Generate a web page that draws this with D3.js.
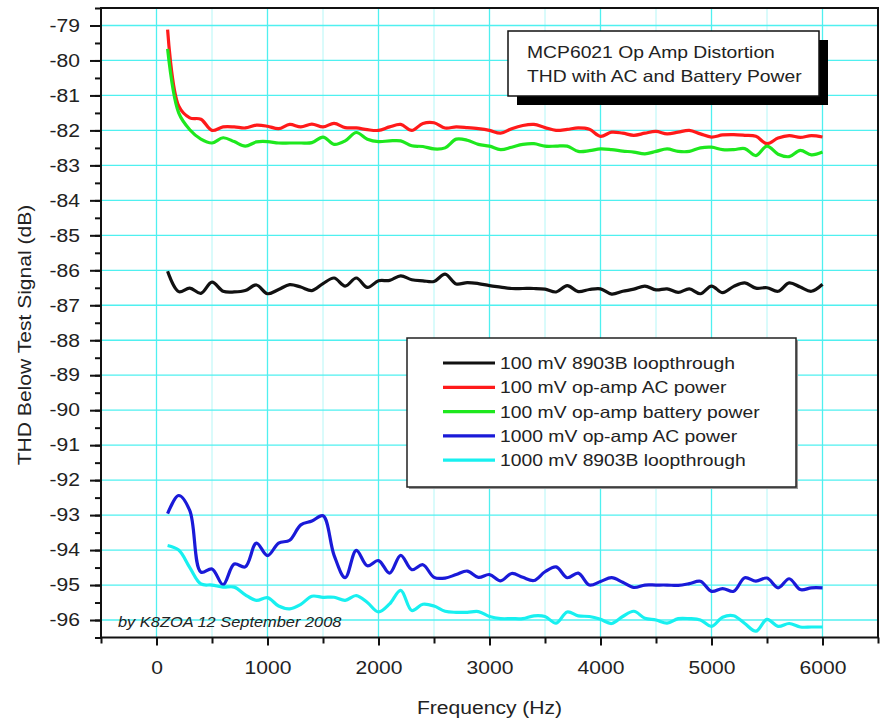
<!DOCTYPE html>
<html>
<head>
<meta charset="utf-8">
<script src="https://cdn.jsdelivr.net/npm/d3@7"></script>
<style>
body { margin: 0; background: #fff; }
#container { width: 881px; height: 721px; }
svg text { font-family: "Liberation Sans", Arial, sans-serif; fill: #222; }
</style>
</head>
<body>
<div id="container"></div>
<script>
// frequency points (Hz), shared by every series
const freqs = [100, 200, 300, 400, 500, 600, 700, 800, 900, 1000,
    1100, 1200, 1300, 1400, 1500, 1600, 1700, 1800, 1900, 2000,
    2100, 2200, 2300, 2400, 2500, 2600, 2700, 2800, 2900, 3000,
    3100, 3200, 3300, 3400, 3500, 3600, 3700, 3800, 3900, 4000,
    4100, 4200, 4300, 4400, 4500, 4600, 4700, 4800, 4900, 5000,
    5100, 5200, 5300, 5400, 5500, 5600, 5700, 5800, 5900, 6000];

const loop100 = [-86.03, -86.61, -86.51, -86.66, -86.34, -86.60, -86.62, -86.58, -86.42, -86.67,
    -86.55, -86.41, -86.48, -86.58, -86.38, -86.22, -86.45, -86.22, -86.49, -86.30,
    -86.29, -86.16, -86.27, -86.30, -86.32, -86.11, -86.39, -86.35, -86.38, -86.44,
    -86.48, -86.52, -86.52, -86.52, -86.54, -86.62, -86.44, -86.61, -86.55, -86.53,
    -86.68, -86.60, -86.54, -86.45, -86.56, -86.53, -86.63, -86.53, -86.67, -86.45,
    -86.64, -86.46, -86.36, -86.51, -86.50, -86.60, -86.36, -86.48, -86.60, -86.40];

const acPower100 = [-79.12, -81.30, -81.64, -81.68, -82.00, -81.90, -81.90, -81.93, -81.85, -81.88,
    -81.95, -81.83, -81.90, -81.82, -81.90, -81.80, -81.92, -81.93, -81.98, -82.00,
    -81.90, -81.83, -82.00, -81.80, -81.78, -81.93, -81.90, -81.92, -81.95, -82.00,
    -82.08, -81.95, -81.86, -81.83, -81.92, -82.00, -81.97, -81.93, -81.97, -82.17,
    -82.05, -82.08, -82.14, -82.08, -82.03, -82.10, -82.05, -82.00, -82.10, -82.19,
    -82.13, -82.12, -82.14, -82.17, -82.38, -82.22, -82.15, -82.20, -82.15, -82.19];

const battery100 = [-79.67, -81.50, -81.98, -82.25, -82.36, -82.21, -82.32, -82.45, -82.33, -82.32,
    -82.36, -82.36, -82.36, -82.35, -82.19, -82.40, -82.30, -82.06, -82.25, -82.32,
    -82.30, -82.30, -82.44, -82.46, -82.53, -82.50, -82.25, -82.28, -82.40, -82.45,
    -82.55, -82.48, -82.40, -82.38, -82.45, -82.45, -82.45, -82.60, -82.58, -82.53,
    -82.55, -82.59, -82.62, -82.67, -82.60, -82.53, -82.60, -82.60, -82.50, -82.48,
    -82.55, -82.55, -82.52, -82.72, -82.45, -82.68, -82.75, -82.57, -82.70, -82.62];

const acPower1000 = [-92.96, -92.44, -92.87, -94.63, -94.54, -94.99, -94.40, -94.48, -93.80, -94.16,
    -93.80, -93.72, -93.28, -93.17, -93.02, -94.15, -94.79, -94.01, -94.45, -94.30,
    -94.66, -94.15, -94.56, -94.42, -94.78, -94.80, -94.70, -94.60, -94.78, -94.70,
    -94.88, -94.67, -94.78, -94.87, -94.62, -94.48, -94.79, -94.66, -95.00, -94.90,
    -94.79, -94.92, -95.07, -95.00, -95.00, -95.00, -95.01, -94.96, -94.89, -95.18,
    -95.10, -95.18, -94.79, -94.89, -94.80, -95.08, -94.82, -95.13, -95.08, -95.08];

const loop1000 = [-93.87, -94.00, -94.50, -94.97, -95.00, -95.06, -95.06, -95.28, -95.44, -95.36,
    -95.60, -95.68, -95.55, -95.32, -95.35, -95.35, -95.44, -95.30, -95.50, -95.77,
    -95.54, -95.15, -95.73, -95.55, -95.60, -95.75, -95.78, -95.78, -95.76, -95.90,
    -95.96, -95.96, -95.96, -95.88, -95.90, -96.09, -95.77, -95.88, -95.90, -95.98,
    -96.10, -95.90, -95.75, -95.95, -96.00, -96.09, -95.96, -95.96, -96.00, -96.18,
    -95.92, -95.88, -96.10, -96.32, -95.98, -96.18, -96.10, -96.20, -96.20, -96.20];

const seriesNames = ["100 mV 8903B loopthrough", "100 mV op-amp AC power", "100 mV op-amp battery power",
    "1000 mV op-amp AC power", "1000 mV 8903B loopthrough"];
const seriesValues = [loop100, acPower100, battery100, acPower1000, loop1000];
const seriesColors = ["#111111", "#ff1a1a", "#1ee81e", "#1a1ad8", "#18f0f0"];

const xMajorTicks = [0, 1000, 2000, 3000, 4000, 5000, 6000];
const yMajorTicks = [-96, -95, -94, -93, -92, -91, -90, -89, -88, -87, -86, -85, -84, -83, -82, -81, -80, -79];
const titleLines = ["MCP6021 Op Amp Distortion", "THD with AC and Battery Power"];
const credit = "by K8ZOA 12 September 2008";

// the picture's text is a bit wider than the font, stretch it horizontally
const STRETCH = 1.17;
function stretch(sel) {
    sel.each(function() {
        const w = this.getComputedTextLength();
        d3.select(this).attr("textLength", w * STRETCH).attr("lengthAdjust", "spacingAndGlyphs");
    });
}

const W = 881, H = 721;
const plot = { left: 101, right: 878, top: 8, bottom: 637.5 };

const svg = d3.select("#container").append("svg")
    .attr("width", W).attr("height", H)
    .attr("viewBox", `0 0 ${W} ${H}`);

svg.append("rect").attr("width", W).attr("height", H).attr("fill", "#fff");

const x = d3.scaleLinear().domain([-500, 6500]).range([plot.left, plot.right]);
const y = d3.scaleLinear().domain([-96.5, -78.5]).range([plot.bottom, plot.top]);

// grid
const xMinor = d3.range(-500, 6501, 500).filter(d => d % 1000 !== 0);
const grid = svg.append("g");
grid.selectAll("line.vminor").data(xMinor).enter().append("line")
    .attr("x1", d => x(d)).attr("x2", d => x(d)).attr("y1", plot.top).attr("y2", plot.bottom)
    .attr("stroke", "#b4f7f7").attr("stroke-width", 1);
grid.selectAll("line.vmajor").data(xMajorTicks).enter().append("line")
    .attr("x1", d => x(d)).attr("x2", d => x(d)).attr("y1", plot.top).attr("y2", plot.bottom)
    .attr("stroke", "#4ff0f0").attr("stroke-width", 1.3);
grid.selectAll("line.h").data(yMajorTicks).enter().append("line")
    .attr("x1", plot.left).attr("x2", plot.right).attr("y1", d => y(d)).attr("y2", d => y(d))
    .attr("stroke", "#4ff0f0").attr("stroke-width", 1.3);

// curves
const line = d3.line()
    .x(d => x(d[0])).y(d => y(d[1]))
    .curve(d3.curveCatmullRom.alpha(0.5));

seriesValues.forEach((vals, i) => {
    svg.append("path")
        .datum(freqs.map((f, j) => [f, vals[j]]))
        .attr("d", line)
        .attr("fill", "none")
        .attr("stroke", seriesColors[i])
        .attr("stroke-width", 3.2)
        .attr("stroke-linejoin", "round");
});

// frame
svg.append("rect")
    .attr("x", plot.left).attr("y", plot.top)
    .attr("width", plot.right - plot.left).attr("height", plot.bottom - plot.top)
    .attr("fill", "none").attr("stroke", "#111").attr("stroke-width", 2);

// axes
const gx = svg.append("g").attr("transform", `translate(0,${plot.bottom})`);
gx.append("g").call(d3.axisBottom(x).tickValues(d3.range(-500, 6501, 500)).tickSize(6).tickFormat(""));
gx.append("g").call(d3.axisBottom(x).tickValues(xMajorTicks).tickSize(8).tickPadding(16).tickFormat(d => String(d)));

const gy = svg.append("g").attr("transform", `translate(${plot.left},0)`);
gy.append("g").call(d3.axisLeft(y).tickValues(d3.range(-96.5, -78.4, 0.5)).tickSize(6).tickFormat(""));
gy.append("g").call(d3.axisLeft(y).tickValues(yMajorTicks).tickSize(11).tickPadding(10).tickFormat(d => String(d)));

svg.selectAll(".domain").remove();
svg.selectAll(".tick line").attr("stroke", "#111").attr("stroke-width", 2);
svg.selectAll(".tick text").attr("font-size", 18).attr("fill", "#222")
    .attr("font-family", "Liberation Sans, Arial, sans-serif").call(stretch);

// axis titles
svg.append("text")
    .attr("x", (plot.left + plot.right) / 2).attr("y", 714)
    .attr("text-anchor", "middle").attr("font-size", 18)
    .text("Frequency (Hz)").call(stretch);

svg.append("text")
    .attr("transform", "translate(31,335) rotate(-90)")
    .attr("text-anchor", "middle").attr("font-size", 18)
    .text("THD Below Test Signal (dB)").call(stretch);

// title box with shadow
svg.append("rect").attr("x", 517).attr("y", 40).attr("width", 311).attr("height", 65).attr("fill", "#000");
svg.append("rect").attr("x", 508).attr("y", 31).attr("width", 311).attr("height", 65)
    .attr("fill", "#fff").attr("stroke", "#111").attr("stroke-width", 1.5);
svg.selectAll("text.title").data(titleLines).enter().append("text")
    .attr("class", "title")
    .attr("x", 527).attr("y", (d, i) => 58 + i * 24)
    .attr("font-size", 16.5)
    .text(d => d).call(stretch);

// legend
const legend = svg.append("g");
legend.append("rect").attr("x", 409).attr("y", 340).attr("width", 389).attr("height", 149).attr("fill", "#999");
legend.append("rect").attr("x", 407).attr("y", 338).attr("width", 389).attr("height", 149)
    .attr("fill", "#fff").attr("stroke", "#222").attr("stroke-width", 1.5);
const rows = legend.selectAll("g.row").data(seriesNames).enter().append("g")
    .attr("transform", (d, i) => `translate(0,${363 + i * 24.3})`);
rows.append("line").attr("x1", 443).attr("x2", 495).attr("y1", 0).attr("y2", 0)
    .attr("stroke", (d, i) => seriesColors[i]).attr("stroke-width", 3.2);
rows.append("text").attr("x", 500).attr("y", 0).attr("dy", "0.36em")
    .attr("font-size", 16.5).text(d => d).call(stretch);

// credit
svg.append("text")
    .attr("x", 118).attr("y", 627)
    .attr("font-size", 14).attr("font-style", "italic")
    .text(credit).call(stretch);
</script>
</body>
</html>
